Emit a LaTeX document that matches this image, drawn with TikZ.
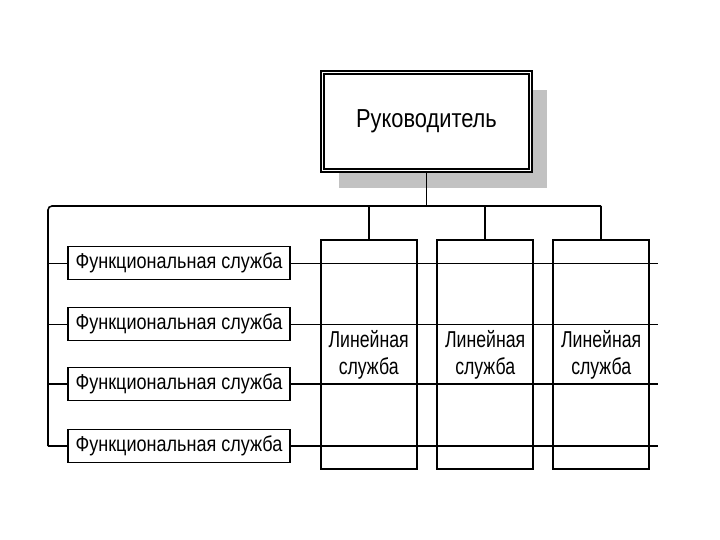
\documentclass[tikz,border=0pt]{standalone}
\usepackage{fontspec}
\setmainfont{Liberation Sans}[FakeStretch=0.84]
\newfontfamily\linfont{Liberation Sans}[FakeStretch=0.77]
\usetikzlibrary{shadows}

\tikzset{
  boss/.style={draw, line width=1.6pt, double=white, double distance=1.8pt,
    fill=white, minimum width=208pt, minimum height=98pt,
    drop shadow={shadow xshift=16pt, shadow yshift=-18pt, fill=black!24, opacity=1},
    font=\fontsize{26}{30}\selectfont},
  funcbox/.style={draw, line width=1.6pt, fill=white, minimum width=222pt,
    minimum height=33pt, inner sep=0pt, font=\fontsize{21.5}{24}\selectfont},
  linbox/.style={draw, line width=1.6pt, minimum width=96pt, minimum height=229pt,
    align=center, font=\linfont\fontsize{23}{27}\selectfont},
}

\begin{document}
\begin{tikzpicture}[x=1pt,y=-1pt,line width=1.6pt]
  \useasboundingbox (0,0) rectangle (720,540);

  % top: head of the organisation
  \node[boss] (head) at (426.5,121.5) {Руководитель};
  \coordinate (busL) at (48,206);
  \coordinate (busR) at (601,206);
  \coordinate (busM) at (426.5,206);
  \draw (head.south) -- (busM);

  % right: line services
  \foreach \i/\x in {1/368.7,2/485.2,3/601.2} {
    \node[linbox] (lin\i) at (\x,354.5) {Линейная\\служба};
  }
  \draw[rounded corners=4pt] (48,446) -- (busL) -- (busR);
  \foreach \i in {1,2,3} {
    \draw (lin\i.north |- busL) -- (lin\i.north);
  }

  % left: functional services
  \foreach \i/\y/\w in {1/263/1pt,2/324/1pt,3/384/1.6pt,4/446/1.6pt} {
    \node[funcbox] (func\i) at (179,\y) {Функциональная служба};
    \coordinate (railA\i) at (48,\y);
    \coordinate (railB\i) at (658,\y);
    \draw[line width=\w] (railA\i) -- (func\i.west);
    \draw[line width=\w] (func\i.east) -- (railB\i);
  }
\end{tikzpicture}
\end{document}
